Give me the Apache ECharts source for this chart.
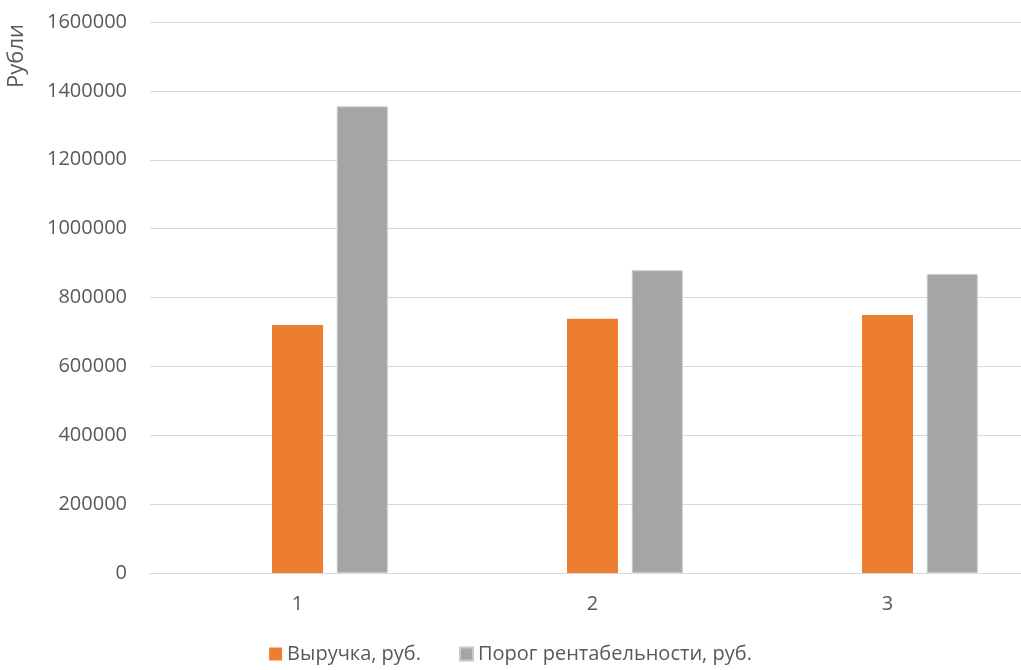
<!DOCTYPE html>
<html>
<head>
<meta charset="utf-8">
<script src="https://cdn.jsdelivr.net/npm/echarts@6/dist/echarts.min.js"></script>
<style>
  html, body { margin: 0; padding: 0; background: #fff; }
  #chart { width: 1021px; height: 670px; }
</style>
</head>
<body>
<div id="chart"></div>
<script>
// Categories along the x axis
const categories = ['1', '2', '3'];
// Revenue, rubles
const revenue = [720000, 738000, 749000];
// Break-even point, rubles
const breakEven = [1355000, 879000, 868000];
// Empty leading series slot (no values)
const spacer = [null, null, null];

const FONT = '"Open Sans", "Noto Sans", sans-serif';
const TEXT = '#595959';

const chart = echarts.init(document.getElementById('chart'), null, { renderer: 'canvas' });

chart.setOption({
  animation: false,
  backgroundColor: '#ffffff',
  textStyle: { fontFamily: FONT, color: TEXT },
  grid: { left: 150, top: 22, width: 885, height: 551, containLabel: false, outerBoundsMode: 'none' },
  legend: {
    bottom: 1,
    left: 'center',
    itemWidth: 13,
    itemHeight: 13,
    itemGap: 38,
    icon: 'rect',
    data: ['Выручка, руб.', 'Порог рентабельности, руб.'],
    textStyle: { fontFamily: FONT, fontSize: 20, color: TEXT }
  },
  graphic: [{
    type: 'text',
    x: 17,
    y: 56,
    rotation: Math.PI / 2,
    style: {
      text: 'Рубли',
      fontFamily: FONT,
      fontSize: 22,
      fill: TEXT,
      align: 'center',
      verticalAlign: 'middle'
    }
  }],
  xAxis: {
    type: 'category',
    data: categories,
    axisLine: { show: true, lineStyle: { color: '#d9d9d9', width: 1 } },
    axisTick: { show: false },
    axisLabel: { fontFamily: FONT, fontSize: 20, color: TEXT, margin: 21 }
  },
  yAxis: {
    type: 'value',
    min: 0,
    max: 1600000,
    interval: 200000,
    axisLine: { show: false },
    axisTick: { show: false },
    splitLine: { lineStyle: { color: '#d9d9d9', width: 1 } },
    axisLabel: {
      fontFamily: FONT, fontSize: 20, color: TEXT, margin: 23,
      formatter: function (v) { return String(v); }
    }
  },
  series: [
    {
      name: '',
      type: 'bar',
      data: spacer,
      barWidth: 51,
      barGap: '27%',
      silent: true
    },
    {
      name: 'Выручка, руб.',
      type: 'bar',
      data: revenue,
      barWidth: 51,
      barGap: '27%',
      itemStyle: { color: '#ED7D31' }
    },
    {
      name: 'Порог рентабельности, руб.',
      type: 'bar',
      data: breakEven,
      barWidth: 51,
      barGap: '27%',
      itemStyle: { color: '#A5A5A5', borderColor: '#c9c9c9', borderWidth: 1 }
    }
  ]
});
</script>
</body>
</html>
